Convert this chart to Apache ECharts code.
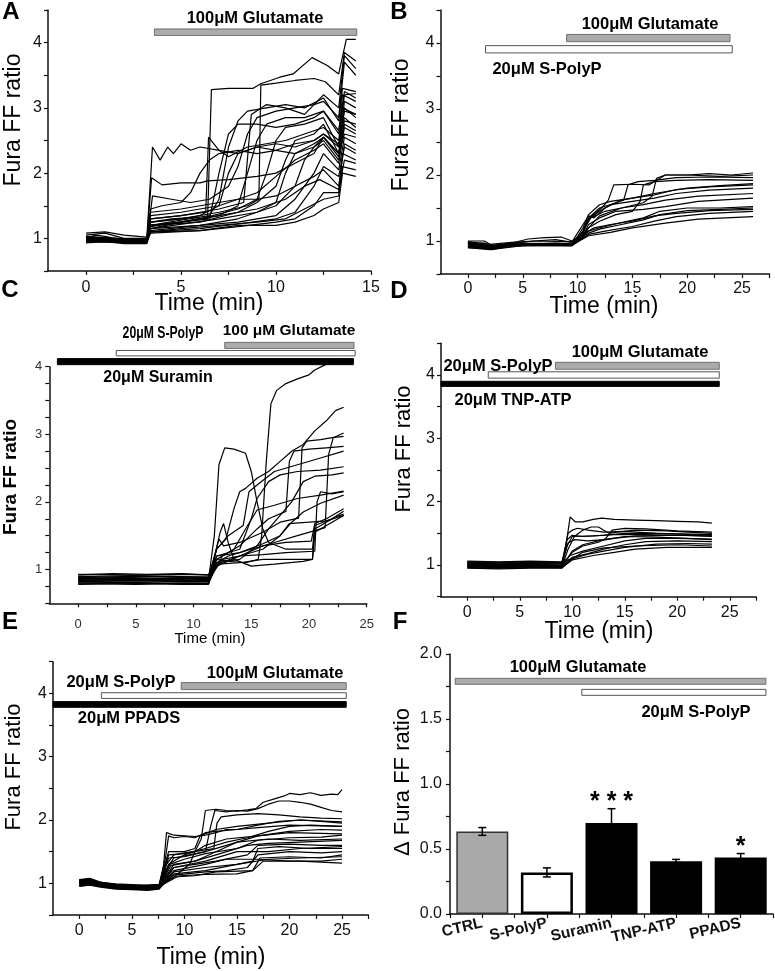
<!DOCTYPE html>
<html>
<head>
<meta charset="utf-8">
<title>Fura FF ratio traces</title>
<script src="https://cdn.jsdelivr.net/npm/echarts@6/dist/echarts.min.js"></script>
<style>
html, body { margin: 0; padding: 0; background: #fff; }
#fig { width: 775px; height: 971px; }
</style>
</head>
<body>
<div id="fig"></div>
<script>
const FONT = '"Liberation Sans", Arial, sans-serif';

// ---- traces: [time (min), Fura FF ratio] ----
const tracesA = [
  [[0,1.0],[0.5,1.05],[1,1.03],[2,0.97],[3.2,0.97],[3.4,1.25],[4.5,1.3],[5.5,1.32],[6.4,1.3],[6.6,3.28],[7.5,3.3],[8.8,3.3],[9.2,3.37],[10.2,3.47],[10.9,3.52],[11.9,3.77],[12.7,3.65],[13.3,3.52],[13.7,4.05],[14.2,4.05]],
  [[0,0.95],[1.5,0.97],[3.2,0.95],[3.4,1.25],[5,1.3],[7,1.4],[8.5,1.5],[9.1,1.6],[9.2,3.35],[10,3.38],[11,3.42],[12,3.45],[12.6,3.4],[13.3,3.2],[13.6,3.85],[14.2,3.72]],
  [[0,1.05],[1,1.08],[2,1.0],[3.2,1.0],[3.5,2.4],[3.9,2.2],[4.3,2.4],[4.6,2.3],[5,2.45],[5.5,2.35],[6,2.4],[7,2.35],[8,2.3],[9,2.4],[10,2.35],[11,2.3],[12,2.4],[12.5,2.55],[13.3,2.25],[13.6,3.0],[14.2,2.85]],
  [[0,0.98],[2,0.95],[3.2,0.96],[3.45,1.93],[4,1.82],[5,1.85],[6,1.85],[6.4,1.88],[7.5,1.9],[9,1.95],[10,2.0],[11,2.15],[12,2.3],[12.5,2.55],[13.3,2.3],[13.6,3.1],[14.2,3.0]],
  [[0,1.0],[2,0.97],[3.2,0.98],[3.4,1.3],[5,1.35],[6.3,1.4],[6.45,2.55],[7,2.35],[7.5,2.25],[8.5,2.4],[9.5,2.45],[10.5,2.5],[11.5,2.6],[12.5,2.7],[13.3,2.5],[13.6,3.2],[14.2,3.22]],
  [[0,1.0],[3.2,0.95],[3.5,1.65],[4.5,1.6],[5.5,1.55],[6.5,1.6],[7.5,1.8],[8,2.1],[8.5,2.6],[9,2.85],[10,2.95],[11,3.0],[12,3.05],[12.5,3.1],[13.3,2.85],[13.6,3.7],[14.2,3.5]],
  [[0,0.97],[3.2,0.93],[3.4,1.2],[5,1.28],[6.5,1.35],[7,1.6],[7.5,2.4],[8,2.8],[8.5,2.95],[9.5,3.0],[10.5,3.05],[11.5,3.0],[12.5,3.15],[13.3,2.8],[13.5,3.3],[14.2,3.25]],
  [[0,1.02],[3.2,0.97],[3.4,1.15],[5,1.25],[7,1.35],[8,1.5],[8.5,2.0],[9,2.5],[9.5,2.75],[10.5,2.85],[11.5,2.85],[12.5,2.95],[13.3,2.6],[13.5,3.2],[14.2,3.1]],
  [[0,0.95],[3.2,0.94],[3.4,1.18],[6,1.3],[8,1.45],[9,1.6],[9.5,2.0],[10,2.5],[10.5,2.7],[11.5,2.75],[12.5,2.85],[13.3,2.4],[13.5,3.0],[14.2,2.9]],
  [[0,1.0],[3.2,0.98],[3.4,1.2],[6,1.25],[8,1.4],[9,1.55],[10,1.8],[10.5,2.2],[11,2.5],[12,2.6],[12.5,2.75],[13.3,2.3],[13.6,2.8],[14.2,2.75]],
  [[0,0.98],[3.2,0.96],[3.4,1.15],[6,1.2],[8,1.3],[10,1.5],[11,1.8],[11.5,2.2],[12,2.4],[12.5,2.5],[13.3,2.2],[13.6,2.7],[14.2,2.6]],
  [[0,1.03],[3.2,0.97],[3.4,1.12],[6,1.2],[8,1.25],[10,1.35],[11,1.6],[12,2.0],[12.5,2.3],[13.3,2.05],[13.6,2.55],[14.2,2.45]],
  [[0,0.96],[3.2,0.95],[3.4,1.1],[6,1.15],[8,1.22],[10,1.3],[11,1.4],[12,1.8],[12.5,2.1],[13.3,1.95],[13.6,2.4],[14.2,2.3]],
  [[0,1.0],[3.2,0.97],[3.4,1.1],[6,1.12],[8,1.18],[10,1.25],[11,1.3],[12,1.5],[12.5,1.7],[13.3,1.7],[13.5,2.3],[14.2,2.2]],
  [[0,0.98],[3.2,0.95],[3.4,1.08],[6,1.12],[8,1.2],[10,1.2],[11,1.25],[12,1.35],[12.5,1.45],[13.3,1.55],[13.5,2.0],[14.2,1.95]],
  [[0,1.02],[3.2,0.96],[3.4,1.25],[5,1.3],[6,1.35],[7,1.5],[7.5,2.0],[8,2.3],[9,2.4],[10,2.45],[11,2.4],[12,2.5],[12.5,2.6],[13.3,2.4],[13.6,2.95],[14.2,2.9]],
  [[0,0.97],[3.2,0.96],[3.4,1.3],[5,1.35],[7,1.45],[8.3,1.55],[8.7,2.9],[9.5,3.05],[10.5,3.0],[11.5,2.9],[12.5,3.2],[13.3,3.0],[13.6,3.8],[14.2,3.6]],
  [[0,1.0],[3.2,0.95],[3.4,1.2],[5,1.25],[7,1.35],[9,1.45],[10.5,1.6],[11.5,1.8],[12.3,1.9],[13.3,1.75],[13.6,2.2],[14.2,2.15]],
  [[0,0.95],[3.2,0.93],[3.4,1.4],[5,1.45],[6,1.5],[7,1.55],[8,1.6],[9,1.6],[10,1.65],[11,1.8],[12,1.95],[12.5,2.05],[13.3,1.8],[13.6,2.45],[14.2,2.35]],
  [[0,1.0],[3.2,0.97],[3.4,1.2],[5,1.25],[6.5,1.3],[7,2.0],[7.5,2.6],[8,2.75],[9,2.75],[10,2.7],[11,2.75],[12,2.85],[12.5,2.95],[13.3,2.65],[13.6,3.25],[14.2,3.15]],
  [[0,0.98],[3.2,0.95],[3.4,1.15],[7,1.3],[9,1.4],[10,1.55],[10.5,2.0],[11,2.3],[12,2.45],[12.5,2.55],[13.3,2.3],[13.6,2.6],[14.2,2.55]],
  [[0,1.02],[3.2,0.98],[3.4,1.45],[4,1.5],[5,1.55],[5.5,1.7],[6,2.0],[6.5,2.2],[7,2.3],[8,2.35],[9,2.3],[10,2.35],[11,2.45],[12,2.5],[12.5,2.6],[13.3,2.45],[13.6,2.85],[14.2,2.7]],
  [[0,0.93],[1,0.95],[2,0.92],[3.2,0.92],[3.4,1.1],[5,1.15],[7,1.2],[9,1.25],[10.5,1.3],[11.5,1.45],[12.5,1.6],[13.3,1.65],[13.5,2.1],[14.2,2.05]],
  [[0,1.08],[1,1.1],[2,1.05],[3.2,1.02],[3.4,1.35],[5,1.4],[7,1.5],[9,1.7],[10,1.95],[11,2.2],[12,2.35],[12.5,2.45],[13.3,2.15],[13.6,2.75],[14.2,2.65]]
];

const tracesB = [
  [[0,0.97],[1.5,0.97],[2.2,0.9],[4,0.95],[6,0.96],[8,0.97],[9.5,0.95],[10.3,1.05],[10.8,1.3],[11.3,1.38],[12.2,1.5],[12.8,1.62],[13.3,1.85],[15,1.86],[16.5,1.85],[17.5,1.95],[18,2.0],[20,2.0],[22,2.02],[24,2.0],[26,2.03]],
  [[0,0.92],[2,0.88],[4,0.93],[7,0.94],[9.5,0.94],[10.5,1.1],[11,1.35],[12,1.5],[13.5,1.58],[14.2,1.62],[14.6,1.85],[15.5,1.9],[17,1.92],[19,1.96],[22,1.97],[26,1.96]],
  [[0,0.95],[2,0.9],[4,0.94],[7,0.95],[9.5,0.95],[10.5,1.05],[11,1.2],[12,1.3],[13.5,1.4],[15,1.45],[15.7,1.6],[16,1.85],[17,1.9],[19,1.92],[22,1.93],[26,1.92]],
  [[0,0.98],[2,0.93],[4,0.97],[7,0.96],[9.5,0.97],[10.5,1.15],[11.2,1.35],[12.5,1.45],[14,1.5],[16,1.58],[16.8,1.68],[17.2,1.95],[18,2.0],[20,2.0],[23,1.98],[26,2.0]],
  [[0,0.9],[2,0.88],[4,0.92],[7,0.95],[9.5,0.94],[10.5,1.2],[11,1.4],[12,1.55],[13,1.6],[15,1.65],[17,1.7],[19,1.78],[22,1.82],[26,1.85]],
  [[0,0.93],[2.2,0.87],[4,0.93],[7,0.93],[9.5,0.93],[10.5,1.15],[11,1.33],[12,1.45],[13,1.55],[15,1.6],[17,1.65],[19,1.72],[22,1.77],[26,1.8]],
  [[0,1.0],[1.5,1.0],[2.2,0.93],[4,0.96],[6,1.0],[8,1.02],[9.5,0.98],[10.5,1.1],[11,1.2],[12,1.38],[14,1.5],[16,1.55],[18,1.62],[21,1.68],[26,1.72]],
  [[0,0.95],[2,0.92],[5,0.95],[9.5,0.96],[10.5,1.08],[11,1.25],[12,1.35],[13.5,1.45],[16,1.48],[18,1.52],[21,1.6],[26,1.65]],
  [[0,0.92],[2,0.9],[5,0.94],[9.5,0.93],[11,1.15],[12,1.2],[14,1.28],[16,1.35],[17.5,1.45],[20,1.5],[23,1.5],[26,1.52]],
  [[0,0.96],[2,0.92],[5,0.96],[9.5,0.95],[11,1.12],[12,1.18],[14,1.25],[16,1.32],[17.5,1.4],[20,1.46],[23,1.48],[26,1.5]],
  [[0,0.9],[2,0.87],[5,0.93],[9.5,0.93],[11,1.1],[12.5,1.15],[15,1.22],[17,1.3],[19,1.37],[22,1.42],[26,1.45]],
  [[0,0.94],[2,0.9],[5,0.95],[9.5,0.94],[11,1.08],[13,1.13],[15,1.2],[18,1.27],[21,1.33],[26,1.37]],
  [[0,0.97],[2,0.92],[4,0.97],[5.5,1.03],[7,1.05],[8.5,1.06],[9.5,1.0],[10.5,1.1],[11.5,1.2],[13,1.25],[15,1.3],[17,1.38],[19,1.42],[22,1.46],[26,1.48]],
  [[0,0.99],[2,0.95],[4,0.98],[6,1.0],[9.5,0.99],[10.5,1.25],[11,1.38],[11.5,1.35],[12.5,1.5],[14,1.62],[15,1.65],[17,1.72],[20,1.8],[23,1.84],[26,1.87]]
];

const tracesC = [
  [[0,0.92],[3,0.94],[6,0.93],[9,0.94],[11.3,0.92],[12,1.15],[13,1.12],[14.5,1.1],[15.6,1.15],[15.9,1.5],[16.3,2.6],[16.7,3.45],[17.2,3.65],[18,3.75],[19,3.82],[20,3.88],[20.5,3.95],[21.3,4.02],[22,4.08],[22.7,4.12]],
  [[0,0.85],[4,0.86],[8,0.85],[11.3,0.84],[12,1.3],[12.8,1.45],[13.5,1.9],[14,2.15],[14.5,2.2],[15.5,2.35],[16.5,2.45],[17.5,2.6],[18.5,2.75],[19.5,2.85],[20.5,3.05],[21.5,3.2],[22.3,3.35],[23,3.4]],
  [[0,0.8],[4,0.81],[8,0.8],[11.3,0.8],[12,1.1],[13,1.2],[15,1.3],[17,1.4],[19,1.5],[21.4,1.62],[21.7,2.7],[22.1,2.95],[23,3.02]],
  [[0,0.9],[4,0.88],[8,0.9],[11.3,0.88],[12.2,1.45],[12.6,1.35],[14,1.4],[16,1.55],[17.5,1.7],[19.1,1.76],[19.4,2.8],[19.8,2.9],[21,2.92],[22,2.95],[23,2.97]],
  [[0,0.83],[5,0.84],[9,0.83],[11.3,0.83],[12.5,1.2],[14,1.35],[15.5,1.6],[16.5,1.75],[18,1.86],[18.3,2.6],[18.7,2.75],[20,2.78],[21.5,2.8],[23,2.82]],
  [[0,0.88],[5,0.87],[9,0.88],[11.3,0.86],[12.5,1.15],[14,1.2],[16,1.22],[18,1.25],[20.5,1.27],[20.7,2.0],[21,2.15],[22,2.12],[23,2.15]],
  [[0,0.78],[5,0.79],[9,0.78],[11.3,0.78],[12,1.2],[14,1.3],[15,1.75],[15.5,2.05],[16.5,2.3],[17.5,2.4],[19,2.45],[21,2.47],[23,2.52]],
  [[0,0.86],[5,0.84],[9,0.86],[11.3,0.85],[12,1.1],[14,1.15],[15.5,1.35],[16.5,1.6],[17.5,1.8],[18.5,2.0],[19.5,2.3],[20.5,2.38],[22,2.4],[23,2.43]],
  [[0,0.82],[5,0.83],[9,0.82],[11.3,0.82],[12,1.15],[13.5,1.3],[14.5,1.6],[15.5,1.88],[17,1.95],[19,2.05],[21,2.1],[23,2.16]],
  [[0,0.9],[5,0.91],[9,0.9],[11.3,0.9],[12.3,1.1],[14,1.2],[16,1.3],[17.5,1.5],[18.5,1.7],[19.5,1.85],[21,1.98],[23,2.1]],
  [[0,0.8],[5,0.8],[9,0.79],[11.3,0.8],[12,1.05],[14,1.2],[16,1.35],[18,1.4],[20.2,1.42],[20.5,1.68],[21.5,1.75],[23,1.9]],
  [[0,0.84],[5,0.85],[9,0.84],[11.3,0.83],[12,1.08],[14,1.1],[16,1.15],[18,1.15],[20.3,1.15],[20.5,1.6],[21.5,1.7],[22.3,1.78],[23,1.82]],
  [[0,0.87],[5,0.86],[9,0.87],[11.3,0.86],[11.8,1.5],[12.2,2.55],[12.7,2.8],[13.5,2.78],[14.5,2.72],[15,2.45],[15.5,2.0],[16,1.6],[16.5,1.4],[18,1.3],[20.3,1.3],[20.5,1.65],[22,1.75],[23,1.86]],
  [[0,0.93],[5,0.92],[9,0.93],[11.3,0.92],[12,1.2],[14,1.25],[16,1.38],[17.5,1.5],[18.3,1.68],[20,1.7],[21.5,1.72],[23,1.8]],
  [[0,0.8],[5,0.78],[9,0.8],[11.3,0.79],[12.3,1.55],[12.6,1.68],[13,1.4],[13.5,1.15],[15,1.05],[17,1.08],[19.5,1.12],[20.3,1.15],[20.5,1.55],[22,1.7],[23,1.8]],
  [[0,0.88],[5,0.9],[9,0.89],[11.3,0.88],[12,1.3],[13,1.5],[14.3,1.65],[14.8,2.15],[15.5,2.25],[17,2.45],[19,2.55],[21,2.65],[23,2.75]]
];

const tracesD = [
  [[0,1.02],[3,1.01],[6,1.0],[9,1.0],[9.3,1.2],[9.8,1.76],[10.3,1.68],[11,1.68],[12,1.72],[12.8,1.74],[14,1.72],[16,1.71],[18,1.7],[20,1.69],[22,1.68],[23.3,1.66]],
  [[0,0.98],[3,0.97],[6,0.98],[9,0.97],[9.6,1.25],[10.2,1.45],[11,1.55],[11.8,1.6],[12.5,1.6],[13,1.55],[13.5,1.5],[14.3,1.52],[16,1.55],[19,1.54],[21,1.52],[23.3,1.5]],
  [[0,1.05],[3,1.04],[6,1.05],[9,1.04],[9.5,1.3],[10,1.45],[12,1.46],[14,1.48],[17,1.48],[20,1.47],[23.3,1.46]],
  [[0,1.0],[3,1.0],[6,0.99],[9,1.0],[10,1.2],[11,1.3],[12.5,1.36],[13.2,1.42],[13.8,1.55],[15,1.58],[17,1.57],[20,1.54],[23.3,1.52]],
  [[0,0.96],[3,0.95],[6,0.96],[9,0.96],[10,1.22],[11,1.32],[12.5,1.38],[14,1.42],[16,1.46],[20,1.47],[23.3,1.45]],
  [[0,1.03],[3,1.02],[6,1.03],[9,1.02],[9.8,1.15],[11,1.22],[13,1.3],[15,1.38],[17,1.42],[20,1.42],[23.3,1.41]],
  [[0,0.99],[3,0.98],[6,0.98],[9,0.98],[10,1.12],[11.5,1.18],[13,1.25],[15,1.32],[17,1.37],[20,1.38],[23.3,1.37]],
  [[0,1.06],[3,1.05],[6,1.06],[9,1.05],[10,1.1],[11.5,1.17],[13,1.22],[15,1.28],[18,1.33],[21,1.34],[23.3,1.33]],
  [[0,0.97],[3,0.96],[6,0.97],[9,0.96],[10,1.08],[12,1.15],[14,1.2],[16,1.25],[19,1.28],[23.3,1.28]],
  [[0,1.01],[3,1.0],[6,1.01],[9,1.0],[9.6,1.35],[10.2,1.4],[11.5,1.38],[13,1.4],[15,1.45],[18,1.44],[21,1.42],[23.3,1.4]],
  [[0,0.95],[3,0.94],[6,0.95],[9,0.95],[10,1.1],[11,1.2],[13,1.27],[16,1.3],[20,1.32],[23.3,1.3]],
  [[0,1.04],[3,1.03],[6,1.04],[9,1.03],[9.5,1.4],[10,1.47],[11,1.45],[13,1.47],[15,1.5],[18,1.5],[23.3,1.48]],
  [[0,1.0],[3,0.99],[6,0.99],[9,0.99],[9.6,1.5],[10,1.55],[10.5,1.58],[11.5,1.55],[13,1.52],[15,1.53],[18,1.5],[23.3,1.47]]
];

const tracesE = [
  [[0,1.03],[1,1.06],[2,1.0],[3.5,0.96],[5,0.95],[6.5,0.95],[7.6,0.96],[8,1.25],[8.3,1.8],[9,1.76],[10,1.75],[11,1.74],[12,1.76],[13,1.8],[14,1.85],[15,1.85],[17,1.92],[19,1.98],[21,2.0],[23,1.98],[25,1.95]],
  [[0,1.0],[1,1.04],[2,0.98],[3.5,0.95],[5,0.94],[6.5,0.93],[7.6,0.95],[8.3,1.3],[9,1.45],[10,1.48],[11,1.5],[11.6,1.7],[12,2.15],[13,2.17],[14,2.15],[15,2.14],[16,2.16],[16.8,2.18],[17.5,2.28],[18.5,2.33],[19.5,2.38],[20,2.42],[21,2.4],[22,2.43],[23,2.39],[24,2.41],[24.6,2.4],[25,2.48]],
  [[0,1.06],[1,1.05],[2,1.02],[3.5,0.98],[5,0.96],[6.5,0.97],[7.6,0.97],[8.2,1.2],[9,1.4],[10.5,1.45],[12,1.5],[12.5,1.9],[12.9,2.15],[14,2.13],[15,2.15],[16,2.14],[17,2.18],[18,2.25],[19,2.3],[20,2.3],[21,2.28],[22,2.25],[23,2.2],[24,2.15],[25,2.13]],
  [[0,0.98],[1,1.02],[2,0.96],[3.5,0.93],[5,0.92],[6.5,0.92],[7.6,0.93],[8.5,1.3],[10,1.45],[11,1.5],[12.8,1.55],[13.1,1.95],[13.5,2.05],[15,2.08],[17,2.1],[19,2.08],[21,2.05],[23,2.03],[25,2.02]],
  [[0,1.02],[1,1.0],[2,0.99],[3.5,0.95],[5,0.95],[6.5,0.94],[7.6,0.96],[8.5,1.45],[10,1.47],[12,1.55],[14,1.65],[16,1.72],[18,1.82],[20,1.9],[22,1.92],[25,1.9]],
  [[0,1.04],[1,1.02],[2,1.01],[3.5,0.97],[5,0.97],[6.5,0.96],[7.6,0.97],[8.5,1.4],[10,1.42],[12,1.5],[14,1.6],[17,1.75],[20,1.82],[23,1.85],[25,1.84]],
  [[0,0.97],[1,0.99],[2,0.95],[3.5,0.92],[5,0.91],[6.5,0.9],[7.6,0.92],[8.6,1.3],[10,1.38],[12,1.47],[15,1.55],[17,1.68],[20,1.72],[23,1.73],[25,1.76]],
  [[0,1.01],[1,1.03],[2,0.97],[3.5,0.95],[5,0.93],[6.5,0.94],[7.6,0.94],[8.7,1.28],[11,1.35],[13,1.45],[16,1.6],[18,1.63],[21,1.65],[25,1.68]],
  [[0,1.05],[1,1.07],[2,1.01],[3.5,0.99],[5,0.98],[6.5,0.97],[7.6,0.98],[9,1.25],[11,1.3],[13,1.35],[16,1.45],[17,1.6],[20,1.62],[23,1.6],[25,1.6]],
  [[0,0.95],[1,0.97],[2,0.94],[3.5,0.91],[5,0.9],[6.5,0.89],[7.6,0.91],[9,1.18],[12,1.25],[15,1.3],[16.5,1.35],[17,1.55],[19,1.58],[22,1.55],[25,1.55]],
  [[0,1.0],[1,1.01],[2,0.98],[3.5,0.94],[5,0.93],[6.5,0.92],[7.6,0.93],[9,1.13],[12,1.18],[14,1.2],[16,1.25],[17,1.45],[20,1.5],[23,1.48],[25,1.5]],
  [[0,1.03],[1,1.05],[2,0.99],[3.5,0.96],[5,0.96],[6.5,0.95],[7.6,0.95],[9.5,1.12],[12,1.14],[15,1.15],[16.5,1.2],[17.2,1.4],[20,1.42],[23,1.4],[25,1.45]],
  [[0,0.99],[1,1.0],[2,0.97],[3.5,0.94],[5,0.94],[6.5,0.93],[7.6,0.94],[9,1.2],[12,1.3],[14,1.38],[17,1.38],[20,1.35],[23,1.35],[25,1.38]],
  [[0,1.02],[1,1.04],[2,0.98],[3.5,0.95],[5,0.95],[6.5,0.96],[7.6,0.96],[9,1.1],[11,1.12],[13,1.18],[16.5,1.2],[17.5,1.35],[21,1.35],[25,1.32]],
  [[0,0.96],[1,0.98],[2,0.95],[3.5,0.92],[5,0.91],[6.5,0.91],[7.6,0.92],[8.3,1.03],[9,1.1],[10.5,1.3],[11,1.5],[12,1.6],[14,1.7],[17,1.75],[20,1.8],[25,1.78]],
  [[0,1.04],[1,1.06],[2,1.0],[3.5,0.97],[5,0.96],[6.5,0.97],[7.6,0.98],[8.5,1.5],[10,1.5],[11,1.55],[11.5,1.75],[13,1.85],[15,1.9],[18,1.95],[21,2.0],[25,1.97]],
  [[0,1.0],[1,1.02],[2,0.97],[3.5,0.94],[5,0.93],[6.5,0.93],[7.6,0.94],[9,1.3],[11,1.35],[13,1.5],[15,1.65],[18,1.7],[21,1.68],[25,1.7]],
  [[0,0.97],[1,0.99],[2,0.96],[3.5,0.92],[5,0.92],[6.5,0.91],[7.6,0.92],[9,1.25],[12,1.35],[15,1.5],[18,1.5],[21,1.55],[25,1.58]],
  [[0,1.01],[1,1.03],[2,0.98],[3.5,0.95],[5,0.94],[6.5,0.94],[7.6,0.95],[9,1.15],[12,1.2],[15,1.3],[18,1.38],[21,1.4],[25,1.42]],
  [[0,1.06],[1,1.08],[2,1.02],[3.5,0.98],[5,0.97],[6.5,0.97],[7.6,0.98],[8.2,1.4],[8.5,1.75],[9,1.72],[10,1.74],[11,1.72],[12,1.8],[13,1.82],[15,1.85],[17,1.88],[20,1.92],[25,1.9]]
];

// ---- drug application windows [start, end] (min; panel F in bar-slot units) ----
const gluA = [3.6, 14.25];
const gluB = [9.0, 23.9], polyB = [1.6, 24.1];
const gluC = [12.7, 23.9], polyC = [3.3, 24.0], suraminC = [-1.8, 23.85];
const gluD = [8.4, 24.0], polyD = [2.0, 24.0], tnpD = [-2.5, 24.0];
const gluE = [9.7, 25.4], polyE = [2.1, 25.4], ppadsE = [-2.5, 25.4];
const gluF = [-0.42, 4.39], polyF = [1.54, 4.39];

// ---- panel F summary ----
const barCats = ['CTRL', 'S-PolyP', 'Suramin', 'TNP-ATP', 'PPADS'];
const barMeans = [0.635, 0.32, 0.70, 0.405, 0.435];
const barErr = [0.03, 0.035, 0.11, 0.015, 0.03];
const barStars = ['', '', '* * *', '', '*'];

// ---- tick labels ----
const xLabelsA = [0, 5, 10, 15];
const xTicksA = [0, 2.5, 5, 7.5, 10, 12.5, 15];
const xLabels25 = [0, 5, 10, 15, 20, 25];
const xTicks275 = [0, 2.5, 5, 7.5, 10, 12.5, 15, 17.5, 20, 22.5, 25, 27.5];
const xTicksC = [0, 2.5, 5, 7.5, 10, 12.5, 15, 17.5, 20, 22.5, 25];
const yLabels = [1, 2, 3, 4];
const yTicks = [0.5, 1, 1.5, 2, 2.5, 3, 3.5, 4, 4.5];
const yTicksC = [0.5, 0.75, 1, 1.25, 1.5, 1.75, 2, 2.25, 2.5, 2.75, 3, 3.25, 3.5, 3.75, 4];
const yLabelsF = [0, 0.5, 1, 1.5, 2];
const yTicksF = [0, 0.25, 0.5, 0.75, 1, 1.25, 1.5, 1.75, 2];
const xTicksF = [-0.5, 0, 0.5, 1, 1.5, 2, 2.5, 3, 3.5, 4, 4.5];
const xLabelsF = [0, 1, 2, 3, 4];

const grids = [
  { left: 48, top: 10, width: 323, height: 261 },
  { left: 440.5, top: 10, width: 329, height: 264 },
  { left: 49.3, top: 366.7, width: 317.4, height: 236.6 },
  { left: 441, top: 343.3, width: 315, height: 253.4 },
  { left: 53, top: 661.7, width: 315.3, height: 253.3 },
  { left: 450, top: 654, width: 323, height: 260 }
];

function axis(p, o) {
  return {
    type: 'value', gridIndex: p, min: o.min, max: o.max,
    axisLine: { show: true, onZero: false, lineStyle: { color: '#111', width: 1.5 } },
    axisTick: { show: true, length: 4, customValues: o.ticks, lineStyle: { color: '#111', width: 1.2 } },
    axisLabel: {
      customValues: o.labels, margin: o.margin, fontSize: o.fs || 16, fontFamily: FONT,
      color: o.color || '#111', fontWeight: o.fw || 'normal', rotate: o.rotate || 0,
      formatter: o.fmt
    },
    splitLine: { show: false }
  };
}

const xAxes = [
  axis(0, { min: -2, max: 15, ticks: xTicksA, labels: xLabelsA, margin: 9 }),
  axis(1, { min: -2.5, max: 27.5, ticks: xTicks275, labels: xLabels25, margin: 7 }),
  axis(2, { min: -2.5, max: 25, ticks: xTicksC, labels: xLabels25, margin: 15, fs: 13, color: '#333' }),
  axis(3, { min: -2.5, max: 27.5, ticks: xTicks275, labels: xLabels25, margin: 8 }),
  axis(4, { min: -2.5, max: 27.5, ticks: xTicks275, labels: xLabels25, margin: 8 }),
  axis(5, { min: -0.5, max: 4.5, ticks: xTicksF, labels: xLabelsF, margin: 9, fs: 15.5, fw: 'bold', rotate: 13,
            fmt: v => barCats[Math.round(v)] })
];
const yAxes = [
  axis(0, { min: 0.5, max: 4.5, ticks: yTicks, labels: yLabels, margin: 6 }),
  axis(1, { min: 0.5, max: 4.5, ticks: yTicks, labels: yLabels, margin: 6 }),
  axis(2, { min: 0.5, max: 4, ticks: yTicksC, labels: yLabels, margin: 7, fs: 13, color: '#333' }),
  axis(3, { min: 0.5, max: 4.5, ticks: yTicks, labels: yLabels, margin: 6 }),
  axis(4, { min: 0.5, max: 4.5, ticks: yTicks, labels: yLabels, margin: 6 }),
  axis(5, { min: 0, max: 2, ticks: yTicksF, labels: yLabelsF, margin: 8, fmt: v => v.toFixed(1) })
];

const BAND = {
  glu: { fill: '#ababab', stroke: '#707070', lineWidth: 1 },
  poly: { fill: '#ffffff', stroke: '#555555', lineWidth: 1 },
  block: { fill: '#000000', stroke: '#000000', lineWidth: 1 }
};

function bandSeries(p, rows) {
  return {
    type: 'custom', xAxisIndex: p, yAxisIndex: p, clip: false, silent: true, z: 5,
    encode: { x: [0, 1], y: [2, 3] },
    data: rows.map(r => [r.t[0], r.t[1], r.y[0], r.y[1]]),
    renderItem: (params, api) => {
      const r = rows[params.dataIndex];
      const a = api.coord([api.value(0), api.value(3)]);
      const b = api.coord([api.value(1), api.value(2)]);
      return { type: 'rect', shape: { x: a[0], y: a[1], width: b[0] - a[0], height: b[1] - a[1] }, style: BAND[r.kind] };
    }
  };
}

const series = [];
[tracesA, tracesB, tracesC, tracesD, tracesE].forEach((set, p) => {
  set.forEach(tr => series.push({
    type: 'line', xAxisIndex: p, yAxisIndex: p, data: tr, symbol: 'none', silent: true,
    clip: p !== 2, lineStyle: { color: '#000', width: 1.2 }, z: 2
  }));
});

series.push(bandSeries(0, [{ t: gluA, y: [4.11, 4.21], kind: 'glu' }]));
series.push(bandSeries(1, [{ t: gluB, y: [4.02, 4.13], kind: 'glu' }, { t: polyB, y: [3.85, 3.96], kind: 'poly' }]));
series.push(bandSeries(2, [{ t: gluC, y: [4.27, 4.36], kind: 'glu' }, { t: polyC, y: [4.16, 4.24], kind: 'poly' },
                           { t: suraminC, y: [4.03, 4.12], kind: 'block' }]));
series.push(bandSeries(3, [{ t: gluD, y: [4.09, 4.2], kind: 'glu' }, { t: polyD, y: [3.95, 4.05], kind: 'poly' },
                           { t: tnpD, y: [3.82, 3.9], kind: 'block' }]));
series.push(bandSeries(4, [{ t: gluE, y: [4.06, 4.17], kind: 'glu' }, { t: polyE, y: [3.92, 4.01], kind: 'poly' },
                           { t: ppadsE, y: [3.78, 3.87], kind: 'block' }]));
series.push(bandSeries(5, [{ t: gluF, y: [1.767, 1.813], kind: 'glu' }, { t: polyF, y: [1.682, 1.728], kind: 'poly' }]));

const BAR_STYLE = [
  { color: '#a9a9a9', borderColor: '#333', borderWidth: 1.5 },
  { color: '#ffffff', borderColor: '#000', borderWidth: 2.5 },
  { color: '#000' }, { color: '#000' }, { color: '#000' }
];
series.push({
  type: 'bar', xAxisIndex: 5, yAxisIndex: 5, barWidth: 52, silent: true, z: 3,
  data: barMeans.map((m, i) => ({ value: [i, m], itemStyle: BAR_STYLE[i] }))
});
series.push({
  type: 'custom', xAxisIndex: 5, yAxisIndex: 5, silent: true, z: 6, clip: false,
  data: barMeans.map((m, i) => [i, m, barErr[i]]),
  renderItem: (params, api) => {
    const i = params.dataIndex;
    const x = api.value(0), m = api.value(1), e = api.value(2);
    const top = api.coord([x, m + e]), bot = api.coord([x, m - e]);
    const ln = (x1, y1, x2, y2) => ({ type: 'line', shape: { x1, y1, x2, y2 }, style: { stroke: '#000', lineWidth: 1.5 } });
    const kids = [ln(top[0], top[1], bot[0], bot[1]), ln(top[0] - 4, top[1], top[0] + 4, top[1]), ln(bot[0] - 4, bot[1], bot[0] + 4, bot[1])];
    if (barStars[i]) {
      kids.push({ type: 'text', style: { text: barStars[i], x: top[0], y: top[1] + 6, textAlign: 'center', textVerticalAlign: 'bottom',
        font: 'bold 25px ' + FONT, fill: '#000' } });
    }
    return { type: 'group', children: kids };
  }
});

function txt(text, x, y, font, extra) {
  return Object.assign({ type: 'text', x, y, silent: true, z: 100,
    style: { text, x: 0, y: 0, font: font + ' ' + FONT, fill: '#000', textAlign: 'center', textVerticalAlign: 'middle' } }, extra || {});
}
const V = { rotation: Math.PI / 2 };
const BOLD = 'bold 16.5px';

const graphic = [
  // panel letters
  txt('A', 11, 12, 'bold 24px'), txt('B', 399, 12, 'bold 24px'), txt('C', 10, 290, 'bold 24px'),
  txt('D', 399, 291, 'bold 24px'), txt('E', 10, 622, 'bold 24px'), txt('F', 400, 622, 'bold 24px'),
  // axis names
  txt('Fura FF ratio', 14, 120, '23px', V), txt('Time (min)', 209, 304, '23px'),
  txt('Fura FF ratio', 402, 125, '23px', V), txt('Time (min)', 604, 307, '23px'),
  txt('Fura FF ratio', 11, 477, 'bold 19px', V), txt('Time (min)', 210, 639, '15px'),
  txt('Fura FF ratio', 404, 449, '22px', V), txt('Time (min)', 599, 632, '23px'),
  txt('Fura FF ratio', 14, 767, '22px', V), txt('Time (min)', 211, 958, '23px'),
  txt('Δ Fura FF ratio', 403, 782, '22px', V),
  // drug labels
  txt('100μM Glutamate', 255, 18, BOLD),
  txt('100μM Glutamate', 650, 24, BOLD), txt('20μM S-PolyP', 547, 69, BOLD),
  txt('20μM S-PolyP', 163, 333, 'bold 16.5px', { scaleX: 0.74 }), txt('100 μM Glutamate', 289, 331, '600 15.5px'),
  txt('20μM Suramin', 158, 378, 'bold 16px'),
  txt('100μM Glutamate', 640, 352, BOLD), txt('20μM S-PolyP', 498, 366, BOLD), txt('20μM TNP-ATP', 513, 400, BOLD),
  txt('100μM Glutamate', 275, 673, BOLD), txt('20μM S-PolyP', 121, 682, BOLD), txt('20μM PPADS', 129, 718, BOLD),
  txt('100μM Glutamate', 578, 667, BOLD), txt('20μM S-PolyP', 696, 712, BOLD)
];

const chart = echarts.init(document.getElementById('fig'), null, { renderer: 'canvas' });
chart.setOption({
  animation: false,
  backgroundColor: '#fff',
  grid: grids,
  xAxis: xAxes,
  yAxis: yAxes,
  series,
  graphic
});
</script>
</body>
</html>
